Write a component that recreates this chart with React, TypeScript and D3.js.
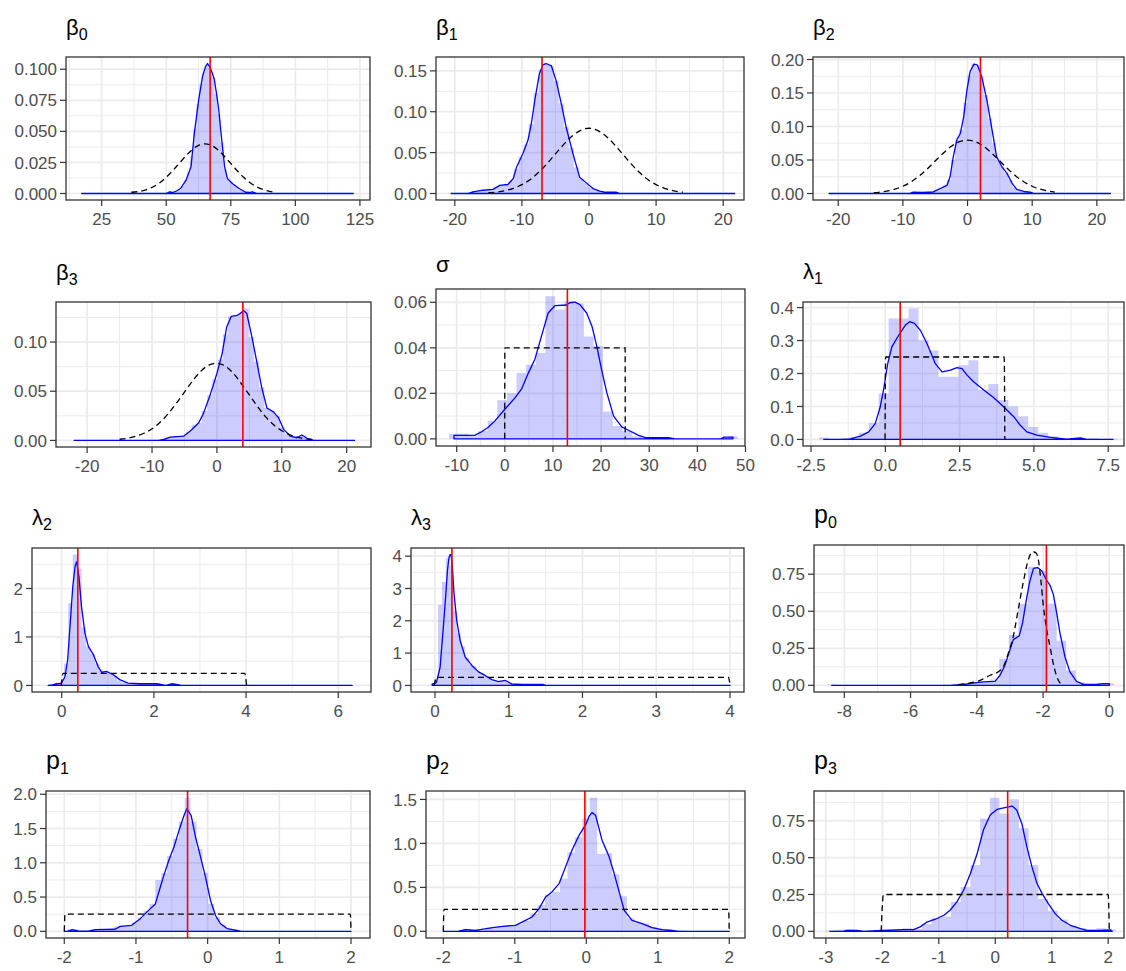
import React from 'react';
import * as d3 from 'd3';

type Pt = [number, number];
type Lim = [number, number];

// ---------------- β0 ----------------
const b0Density: Pt[] = [[17.3,0],[50,0],[51.3,0.0014],[52.5,0.0008],[54,0.002],[55.5,0.004],[57.7,0.0108],[59.6,0.0216],[60.9,0.0486],[62.6,0.0757],[64.1,0.0946],[65.2,0.102],[66,0.1046],[66.9,0.1015],[67.8,0.097],[68.6,0.092],[69.5,0.08],[70.3,0.068],[71.5,0.043],[72.6,0.0216],[73.7,0.012],[75.6,0.008],[78.2,0.004],[80.8,0.001],[82.5,0.0008],[83.3,0.0014],[85,0],[122.4,0]];
const b0Prior: Pt[] = [[36.5,0.001],[40,0.0018],[42.5,0.0032],[45,0.0054],[47.5,0.0086],[50,0.013],[52.5,0.0183],[55,0.0242],[57.5,0.03],[60,0.0352],[62.5,0.0387],[65,0.0399],[67.5,0.0387],[70,0.0352],[72.5,0.03],[75,0.0242],[77.5,0.0183],[80,0.013],[82.5,0.0086],[85,0.0054],[87.5,0.0032],[90,0.0018],[91.7,0.0011]];
const b0Hist = [0.001,0.001,0.001,0.002,0.003,0.006,0.011,0.017,0.03,0.052,0.072,0.088,0.098,0.104,0.101,0.094,0.08,0.064,0.041,0.02,0.012,0.009,0.007,0.005,0.003,0.002,0.001,0.001,0.0015,0.001];
const b0HistRange: Lim = [50.5, 84.5];
const b0XLim: Lim = [11.2, 128.9];
const b0XTicks = [25, 50, 75, 100, 125];
const b0YTicks = [0, 0.025, 0.05, 0.075, 0.1];
const b0True = 67;

// ---------------- β1 ----------------
const b1Density: Pt[] = [[-20.55,0],[-18,0],[-17.3,0.002],[-15.8,0.004],[-14.3,0.005],[-13.3,0.01],[-12.1,0.011],[-11.3,0.018],[-10.8,0.032],[-9.85,0.049],[-9.1,0.065],[-8.6,0.085],[-8.0,0.118],[-7.4,0.146],[-6.9,0.157],[-6.4,0.159],[-5.6,0.156],[-4.9,0.138],[-4.1,0.109],[-3.4,0.081],[-2.4,0.049],[-1.4,0.02],[-0.4,0.013],[0.6,0.006],[1.6,0.003],[2.5,0.0015],[4.1,0.0015],[4.6,0],[21.7,0]];
const b1Prior: Pt[] = [[-15,0.0009],[-13.75,0.0018],[-12.5,0.0035],[-11.25,0.0064],[-10,0.0108],[-8.75,0.0172],[-7.5,0.0259],[-6.25,0.0365],[-5,0.0484],[-3.75,0.0602],[-2.5,0.0704],[-1.25,0.0773],[0,0.0798],[1.25,0.0773],[2.5,0.0704],[3.75,0.0602],[5,0.0484],[6.25,0.0365],[7.5,0.0259],[8.75,0.0172],[10,0.0108],[11.25,0.0064],[12.5,0.0035],[14,0.0016]];
const b1Hist = [0.002,0.003,0.004,0.004,0.005,0.008,0.01,0.011,0.015,0.03,0.045,0.06,0.085,0.123,0.152,0.159,0.156,0.138,0.11,0.081,0.056,0.032,0.018,0.013,0.007,0.004,0.003,0.0015,0.0015,0.0015];
const b1HistRange: Lim = [-17.6, 4.1];
const b1XLim: Lim = [-22.8, 23.1];
const b1XTicks = [-20, -10, 0, 10, 20];
const b1YTicks = [0, 0.05, 0.1, 0.15];
const b1True = -7;

// ---------------- β2 ----------------
const b2Density: Pt[] = [[-21.4,0],[-9,0],[-8.4,0.002],[-7,0.0015],[-5.3,0.0025],[-4.2,0.0075],[-3.2,0.012],[-2.7,0.025],[-2.2,0.055],[-1.65,0.08],[-1.1,0.09],[-0.6,0.114],[-0.1,0.154],[0.4,0.182],[1.0,0.193],[1.55,0.1915],[2.2,0.174],[3.0,0.139],[3.8,0.0945],[4.5,0.055],[5.3,0.04],[6.1,0.03],[6.9,0.015],[7.6,0.006],[8.7,0.003],[9.7,0.002],[10.3,0],[22.1,0]];
const b2Prior: Pt[] = [[-14.5,0.0012],[-13.75,0.0018],[-12.5,0.0035],[-11.25,0.0064],[-10,0.0108],[-8.75,0.0172],[-7.5,0.0259],[-6.25,0.0365],[-5,0.0484],[-3.75,0.0602],[-2.5,0.0704],[-1.25,0.0773],[0,0.0798],[1.25,0.0773],[2.5,0.0704],[3.75,0.0602],[5,0.0484],[6.25,0.0365],[7.5,0.0259],[8.75,0.0172],[10,0.0108],[11.25,0.0064],[12.5,0.0035],[13.5,0.0021]];
const b2Hist = [0.002,0.002,0.002,0.001,0.002,0.003,0.006,0.009,0.012,0.02,0.05,0.08,0.095,0.135,0.176,0.194,0.19,0.175,0.147,0.112,0.075,0.05,0.04,0.031,0.02,0.009,0.004,0.003,0.002,0.002];
const b2HistRange: Lim = [-8.6, 9.8];
const b2XLim: Lim = [-23.9, 24.2];
const b2XTicks = [-20, -10, 0, 10, 20];
const b2YTicks = [0, 0.05, 0.1, 0.15, 0.2];
const b2True = 2;

// ---------------- β3 ----------------
const b3Density: Pt[] = [[-22,0],[-9,0],[-8.2,0.001],[-7.2,0.0034],[-5.1,0.0044],[-4.1,0.0096],[-2.8,0.018],[-2.1,0.027],[-1.0,0.047],[0,0.068],[0.8,0.088],[1.5,0.115],[2.2,0.126],[3.1,0.127],[3.6,0.129],[4.1,0.132],[4.6,0.129],[5.4,0.105],[6.2,0.078],[6.9,0.054],[7.7,0.033],[8.7,0.029],[9.5,0.023],[10.3,0.011],[11.3,0.0044],[12.3,0.0027],[13.1,0.0055],[13.9,0.002],[14.9,0],[21.2,0]];
const b3Prior: Pt[] = [[-15,0.0012],[-13.75,0.0022],[-12.5,0.0042],[-11.25,0.0073],[-10,0.0118],[-8.75,0.0184],[-7.5,0.0272],[-6.25,0.0377],[-5,0.0492],[-3.75,0.0605],[-2.5,0.0702],[-1.25,0.0765],[0,0.0785],[1.25,0.0757],[2.5,0.0684],[3.75,0.0578],[5,0.0462],[6.25,0.0345],[7.5,0.024],[8.75,0.0158],[10,0.0098],[11.25,0.0057],[12.5,0.0031],[13.75,0.0016],[14.7,0.001]];
const b3Hist = [0.001,0.003,0.004,0.004,0.005,0.009,0.016,0.018,0.03,0.046,0.062,0.082,0.108,0.126,0.127,0.13,0.134,0.105,0.08,0.054,0.033,0.03,0.025,0.013,0.006,0.004,0.003,0.005,0.002,0.001];
const b3HistRange: Lim = [-8.3, 14.9];
const b3XLim: Lim = [-24.8, 23.75];
const b3XTicks = [-20, -10, 0, 10, 20];
const b3YTicks = [0, 0.05, 0.1];
const b3True = 4;

// ---------------- σ ----------------
const sDensity: Pt[] = [[-10.56,0],[-10.56,0.0015],[-6.25,0.0015],[-4.9,0.003],[-3.5,0.005],[-2.1,0.0078],[0,0.013],[2.1,0.018],[3.5,0.022],[4.9,0.029],[6.25,0.035],[7.6,0.045],[9.0,0.0553],[10.4,0.0585],[12.0,0.0587],[12.8,0.0588],[13.5,0.0598],[14.6,0.0601],[15.6,0.059],[17.0,0.0553],[18.1,0.0495],[19.1,0.0407],[20.1,0.0304],[21.2,0.0202],[22.6,0.01],[24.3,0.0053],[25.7,0.0038],[27.8,0.0015],[29.2,0.0005],[34,0.0005],[35.4,0],[45,0],[45.5,0.0008],[47.4,0.0008],[47.4,0]];
const sPrior: Pt[] = [[-0.02,0],[0,0.04],[25,0.04],[25.02,0]];
const sHist = [0.0022,0.0022,0.0012,0.0035,0.008,0.017,0.02,0.029,0.0326,0.0377,0.0627,0.0568,0.0604,0.0595,0.045,0.0407,0.012,0.0056,0.0035,0.0012,0.0005,0.0005,0.0003,0,0,0,0,0,0.0005,0.0012];
const sHistRange: Lim = [-10.56, 47.4];
const sXLim: Lim = [-14.3, 49.9];
const sXTicks = [-10, 0, 10, 20, 30, 40, 50];
const sYTicks = [0, 0.02, 0.04, 0.06];
const sTrue = 13;

// ---------------- λ1 ----------------
const l1Density: Pt[] = [[-2.07,0],[-1.5,0],[-1.18,0.002],[-0.84,0.01],[-0.56,0.023],[-0.34,0.048],[-0.17,0.099],[-0.06,0.15],[0.08,0.23],[0.22,0.281],[0.45,0.316],[0.67,0.346],[0.82,0.357],[0.98,0.352],[1.18,0.331],[1.4,0.291],[1.68,0.23],[1.91,0.205],[2.19,0.21],[2.41,0.218],[2.58,0.215],[2.75,0.195],[2.97,0.175],[3.31,0.15],[3.64,0.127],[3.98,0.099],[4.32,0.069],[4.54,0.043],[4.76,0.023],[5.1,0.013],[5.55,0.006],[6.1,0.001],[6.56,0.005],[6.78,0],[7.66,0]];
const l1Prior: Pt[] = [[-0.01,0],[0.01,0.25],[4.0,0.25],[4.02,0]];
const l1Hist = [0.006,0.001,0.002,0.006,0.02,0.05,0.139,0.367,0.367,0.397,0.3,0.27,0.19,0.19,0.225,0.24,0.15,0.168,0.12,0.1,0.07,0.038,0.02,0.01,0.004,0.002,0.001,0.004,0,0.002];
const l1HistRange: Lim = [-2.07, 7.66];
const l1XLim: Lim = [-2.77, 8.03];
const l1XTicks = [-2.5, 0, 2.5, 5, 7.5];
const l1YTicks = [0, 0.1, 0.2, 0.3, 0.4];
const l1True = 0.5;

// ---------------- λ2 ----------------
const l2Density: Pt[] = [[-0.29,0],[-0.2,0.01],[-0.14,0.03],[-0.05,0.04],[0,0.05],[0.07,0.18],[0.13,0.53],[0.18,1.21],[0.24,2.03],[0.29,2.45],[0.325,2.55],[0.375,2.24],[0.43,1.62],[0.505,1.075],[0.58,0.8],[0.69,0.63],[0.79,0.39],[0.87,0.27],[0.97,0.29],[1.12,0.22],[1.26,0.12],[1.44,0.05],[1.7,0.035],[2.06,0.035],[2.2,0.01],[2.27,0],[2.38,0.035],[2.49,0.02],[2.6,0],[6.3,0]];
const l2Prior: Pt[] = [[-0.01,0],[0.03,0.25],[3.97,0.25],[4.01,0]];
const l2Hist = [0.01,0.02,0.04,0.06,0.45,1.7,2.7,2.41,1.2,0.8,0.65,0.45,0.3,0.3,0.25,0.2,0.1,0.06,0.04,0.04,0.03,0.04,0.03,0.03,0.03,0.01,0,0.02,0.04,0.01];
const l2HistRange: Lim = [-0.29, 2.5];
const l2XLim: Lim = [-0.644, 6.71];
const l2XTicks = [0, 2, 4, 6];
const l2YTicks = [0, 1, 2];
const l2True = 0.35;

// ---------------- λ3 ----------------
const l3Density: Pt[] = [[-0.036,0],[-0.036,0.05],[0,0.06],[0.02,0.1],[0.07,0.57],[0.11,1.71],[0.145,2.75],[0.17,3.58],[0.19,3.95],[0.205,4.05],[0.217,4.05],[0.235,3.69],[0.258,2.86],[0.294,2.03],[0.34,1.4],[0.41,0.88],[0.5,0.62],[0.59,0.42],[0.68,0.31],[0.77,0.18],[0.86,0.12],[0.95,0.16],[1.04,0.05],[1.18,0.03],[1.31,0.03],[1.47,0.03],[1.5,0],[4.0,0]];
const l3Prior: Pt[] = [[-0.01,0],[0.02,0.25],[3.98,0.25],[4.0,0]];
const l3Hist = [0.05,0.15,2.5,3.2,3.95,3.7,2.3,1.6,1.2,0.85,0.65,0.6,0.45,0.38,0.3,0.2,0.12,0.1,0.14,0.15,0.08,0.05,0.03,0.03,0.03,0.02,0.03,0.03,0.02,0.03];
const l3HistRange: Lim = [-0.036, 1.47];
const l3XLim: Lim = [-0.325, 4.19];
const l3XTicks = [0, 1, 2, 3, 4];
const l3YTicks = [0, 1, 2, 3, 4];
const l3True = 0.23;

// ---------------- p0 ----------------
const p0Density: Pt[] = [[-8.38,0],[-4.8,0],[-4.4,0.007],[-4.0,0.018],[-3.8,0.023],[-3.45,0.027],[-3.3,0.068],[-3.15,0.136],[-3.0,0.239],[-2.9,0.307],[-2.72,0.334],[-2.62,0.42],[-2.52,0.557],[-2.41,0.693],[-2.29,0.789],[-2.17,0.795],[-2.04,0.773],[-1.91,0.716],[-1.79,0.675],[-1.69,0.614],[-1.59,0.489],[-1.49,0.352],[-1.34,0.193],[-1.19,0.091],[-0.99,0.027],[-0.78,0.007],[-0.4,0.007],[-0.18,0.011],[0,0.011],[0,0]];
const p0Prior: Pt[] = [[-4.56,0.005],[-4.2,0.016],[-3.9,0.034],[-3.6,0.068],[-3.35,0.091],[-3.2,0.125],[-3.05,0.216],[-2.9,0.33],[-2.75,0.511],[-2.6,0.693],[-2.44,0.852],[-2.31,0.902],[-2.21,0.893],[-2.13,0.83],[-2.07,0.716],[-1.99,0.534],[-1.89,0.375],[-1.79,0.261],[-1.67,0.125],[-1.54,0.034],[-1.44,0.007]];
const p0Hist = [0.005,0,0,0,0,0,0,0,0,0,0,0,0.003,0.007,0.01,0.02,0.024,0.04,0.18,0.34,0.55,0.8,0.77,0.55,0.3,0.1,0.02,0.005,0.01,0.012];
const p0HistRange: Lim = [-8.38, 0];
const p0XLim: Lim = [-8.915, 0.443];
const p0XTicks = [-8, -6, -4, -2, 0];
const p0YTicks = [0, 0.25, 0.5, 0.75];
const p0True = -1.9;

// ---------------- p1 ----------------
const p1Density: Pt[] = [[-2,0],[-1.95,0],[-1.89,0.024],[-1.8,0.002],[-1.65,0.005],[-1.57,0.024],[-1.29,0.03],[-1.22,0.073],[-1.06,0.088],[-0.94,0.185],[-0.85,0.28],[-0.73,0.4],[-0.66,0.647],[-0.61,0.82],[-0.54,1.04],[-0.47,1.23],[-0.4,1.47],[-0.33,1.69],[-0.29,1.79],[-0.23,1.69],[-0.17,1.38],[-0.1,1.09],[-0.03,0.79],[0.04,0.45],[0.11,0.23],[0.18,0.11],[0.27,0.04],[0.41,0.015],[0.46,0],[2.0,0]];
const p1Prior: Pt[] = [[-2.0,0],[-1.99,0.25],[1.99,0.25],[2.0,0]];
const p1Hist = [0.03,0.03,0,0.01,0.02,0.03,0.02,0.03,0.07,0.08,0.09,0.13,0.2,0.3,0.4,0.75,0.85,1.1,1.35,1.6,1.95,1.6,1.2,0.85,0.4,0.2,0.1,0.04,0.02,0.01];
const p1HistRange: Lim = [-1.92, 0.46];
const p1XLim: Lim = [-2.255, 2.265];
const p1XTicks = [-2, -1, 0, 1, 2];
const p1YTicks = [0, 0.5, 1, 1.5, 2];
const p1True = -0.28;

// ---------------- p2 ----------------
const p2Density: Pt[] = [[-2,0],[-1.8,0],[-1.69,0.02],[-1.55,0.011],[-1.31,0.042],[-1.17,0.057],[-0.99,0.068],[-0.85,0.125],[-0.76,0.163],[-0.66,0.258],[-0.57,0.391],[-0.48,0.448],[-0.38,0.543],[-0.29,0.733],[-0.2,0.923],[-0.1,1.094],[-0.01,1.21],[0.04,1.31],[0.08,1.35],[0.13,1.32],[0.22,1.037],[0.32,0.847],[0.39,0.657],[0.46,0.448],[0.53,0.239],[0.64,0.125],[0.78,0.087],[0.92,0.042],[1.06,0.019],[1.2,0.011],[1.29,0],[2,0]];
const p2Prior: Pt[] = [[-2.0,0],[-1.99,0.25],[1.99,0.25],[2.0,0]];
const p2Hist = [0.03,0.02,0.01,0.04,0.05,0.06,0.07,0.08,0.12,0.2,0.3,0.42,0.45,0.6,0.9,1.07,1.28,1.52,0.88,0.89,0.65,0.4,0.15,0.1,0.09,0.05,0.03,0.02,0.01,0.01];
const p2HistRange: Lim = [-1.67, 1.35];
const p2XLim: Lim = [-2.242, 2.22];
const p2XTicks = [-2, -1, 0, 1, 2];
const p2YTicks = [0, 0.5, 1, 1.5];
const p2True = -0.02;

// ---------------- p3 ----------------
const p3Density: Pt[] = [[-2.93,0],[-2.7,0],[-2.63,0.007],[-2.45,0.007],[-2.33,0],[-2.0,0.007],[-1.62,0.011],[-1.45,0.011],[-1.33,0.03],[-1.21,0.063],[-1.06,0.082],[-0.91,0.109],[-0.8,0.143],[-0.68,0.2],[-0.56,0.279],[-0.44,0.392],[-0.32,0.528],[-0.21,0.687],[-0.09,0.789],[0.03,0.827],[0.15,0.838],[0.3,0.85],[0.38,0.823],[0.47,0.732],[0.56,0.573],[0.65,0.437],[0.74,0.324],[0.83,0.256],[0.94,0.188],[1.06,0.12],[1.18,0.075],[1.33,0.041],[1.51,0.018],[1.62,0.007],[1.86,0.007],[2.04,0.01],[2.07,0]];
const p3Prior: Pt[] = [[-2.02,0],[-1.98,0.25],[2.0,0.25],[2.02,0]];
const p3Hist = [0.005,0.01,0.012,0.005,0.005,0.01,0.008,0.01,0.02,0.015,0.05,0.09,0.1,0.2,0.3,0.45,0.766,0.907,0.8,0.897,0.7,0.45,0.22,0.14,0.08,0.04,0.02,0.01,0.02,0.012];
const p3HistRange: Lim = [-2.93, 2.05];
const p3XLim: Lim = [-3.21, 2.28];
const p3XTicks = [-3, -2, -1, 0, 1, 2];
const p3YTicks = [0, 0.25, 0.5, 0.75];
const p3True = 0.22;

// ---------------- titles ----------------
const titleMain = ['β', 'β', 'β', 'β', 'σ', 'λ', 'λ', 'λ', 'p', 'p', 'p', 'p'];
const titleSub = ['0', '1', '2', '3', '', '1', '2', '3', '0', '1', '2', '3'];

interface PanelDef {
  density: Pt[]; prior: Pt[]; hist: number[]; histRange: Lim; xLim: Lim;
  xTicks: number[]; yTicks: number[]; xFmt: string; yFmt: string; truth: number;
}

const panels: PanelDef[] = [
  { density: b0Density, prior: b0Prior, hist: b0Hist, histRange: b0HistRange, xLim: b0XLim, xTicks: b0XTicks, yTicks: b0YTicks, xFmt: 'd', yFmt: '.3f', truth: b0True },
  { density: b1Density, prior: b1Prior, hist: b1Hist, histRange: b1HistRange, xLim: b1XLim, xTicks: b1XTicks, yTicks: b1YTicks, xFmt: 'd', yFmt: '.2f', truth: b1True },
  { density: b2Density, prior: b2Prior, hist: b2Hist, histRange: b2HistRange, xLim: b2XLim, xTicks: b2XTicks, yTicks: b2YTicks, xFmt: 'd', yFmt: '.2f', truth: b2True },
  { density: b3Density, prior: b3Prior, hist: b3Hist, histRange: b3HistRange, xLim: b3XLim, xTicks: b3XTicks, yTicks: b3YTicks, xFmt: 'd', yFmt: '.2f', truth: b3True },
  { density: sDensity, prior: sPrior, hist: sHist, histRange: sHistRange, xLim: sXLim, xTicks: sXTicks, yTicks: sYTicks, xFmt: 'd', yFmt: '.2f', truth: sTrue },
  { density: l1Density, prior: l1Prior, hist: l1Hist, histRange: l1HistRange, xLim: l1XLim, xTicks: l1XTicks, yTicks: l1YTicks, xFmt: '.1f', yFmt: '.1f', truth: l1True },
  { density: l2Density, prior: l2Prior, hist: l2Hist, histRange: l2HistRange, xLim: l2XLim, xTicks: l2XTicks, yTicks: l2YTicks, xFmt: 'd', yFmt: 'd', truth: l2True },
  { density: l3Density, prior: l3Prior, hist: l3Hist, histRange: l3HistRange, xLim: l3XLim, xTicks: l3XTicks, yTicks: l3YTicks, xFmt: 'd', yFmt: 'd', truth: l3True },
  { density: p0Density, prior: p0Prior, hist: p0Hist, histRange: p0HistRange, xLim: p0XLim, xTicks: p0XTicks, yTicks: p0YTicks, xFmt: 'd', yFmt: '.2f', truth: p0True },
  { density: p1Density, prior: p1Prior, hist: p1Hist, histRange: p1HistRange, xLim: p1XLim, xTicks: p1XTicks, yTicks: p1YTicks, xFmt: 'd', yFmt: '.1f', truth: p1True },
  { density: p2Density, prior: p2Prior, hist: p2Hist, histRange: p2HistRange, xLim: p2XLim, xTicks: p2XTicks, yTicks: p2YTicks, xFmt: 'd', yFmt: '.1f', truth: p2True },
  { density: p3Density, prior: p3Prior, hist: p3Hist, histRange: p3HistRange, xLim: p3XLim, xTicks: p3XTicks, yTicks: p3YTicks, xFmt: 'd', yFmt: '.2f', truth: p3True },
];

// ---------------- layout (pixel boxes of each panel) ----------------
interface Box { l: number; r: number; t: number; b: number; tOff: number }
const boxes: Box[] = [
  { l: 66, r: 370, t: 57, b: 200, tOff: 22 },
  { l: 436, r: 744, t: 57, b: 200, tOff: 22 },
  { l: 813, r: 1124, t: 57, b: 200, tOff: 22 },
  { l: 56, r: 371, t: 302, b: 447, tOff: 22 },
  { l: 436, r: 745, t: 289, b: 446, tOff: 17 },
  { l: 803, r: 1124, t: 302, b: 446, tOff: 23 },
  { l: 32, r: 371, t: 548, b: 692, tOff: 23 },
  { l: 411, r: 744, t: 548, b: 692, tOff: 23 },
  { l: 814, r: 1124, t: 545, b: 692, tOff: 22 },
  { l: 46, r: 370, t: 791, b: 938, tOff: 22 },
  { l: 426, r: 745, t: 791, b: 938, tOff: 22 },
  { l: 814, r: 1124, t: 791, b: 938, tOff: 22 },
];

const FONT = "'Liberation Sans', Arial, Helvetica, sans-serif";
const GRID = '#EBEBEB';
const AXIS_TXT = '#4D4D4D';
const DARK = '#333333';
const AXIS_FS = 17;

function minorBreaks(ticks: number[], lim: Lim): number[] {
  const s = ticks[1] - ticks[0];
  const out: number[] = [];
  for (let k = -1; k < ticks.length; k++) {
    const v = ticks[0] + (k + 0.5) * s;
    if (v >= lim[0] && v <= lim[1]) out.push(v);
  }
  return out;
}

function makeFmt(spec: string) {
  const f = d3.format(spec);
  return (v: number) => f(v).replace('\u2212', '-');
}

function Panel({ def, box, idx }: { def: PanelDef; box: Box; idx: number }) {
  const { l, r, t, b } = box;
  const x = d3.scaleLinear().domain(def.xLim).range([l, r]);
  const yMax = Math.max(
    d3.max(def.hist) as number,
    d3.max(def.density, (d) => d[1]) as number,
    d3.max(def.prior, (d) => d[1]) as number
  );
  const yDom: Lim = [-0.05 * yMax, 1.05 * yMax];
  const y = d3.scaleLinear().domain(yDom).range([b, t]);

  const n = def.hist.length;
  const w = (def.histRange[1] - def.histRange[0]) / (n - 1);
  const steps: Pt[] = def.hist.map((h, i) => [def.histRange[0] + (i - 0.5) * w, h] as Pt);
  steps.push([def.histRange[0] + (n - 0.5) * w, def.hist[n - 1]]);
  const histArea = d3.area<Pt>().x((d) => x(d[0])).y0(y(0)).y1((d) => y(d[1])).curve(d3.curveStepAfter);
  const densLine = d3.line<Pt>().x((d) => x(d[0])).y((d) => y(d[1]));
  const priorLine = d3.line<Pt>().x((d) => x(d[0])).y((d) => y(d[1])).curve(d3.curveMonotoneX);

  const xMinor = minorBreaks(def.xTicks, def.xLim);
  const yMinor = minorBreaks(def.yTicks, yDom);
  const fx = makeFmt(def.xFmt);
  const fy = makeFmt(def.yFmt);
  const clipId = `clip-${idx}`;
  const isP = titleMain[idx] === 'p';

  return (
    <g>
      <defs>
        <clipPath id={clipId}>
          <rect x={l} y={t} width={r - l} height={b - t} />
        </clipPath>
      </defs>
      <rect x={l} y={t} width={r - l} height={b - t} fill="#fff" />
      <g clipPath={`url(#${clipId})`}>
        {xMinor.map((v, i) => (
          <line key={`xm${i}`} x1={x(v)} x2={x(v)} y1={t} y2={b} stroke={GRID} strokeWidth={1} />
        ))}
        {yMinor.map((v, i) => (
          <line key={`ym${i}`} x1={l} x2={r} y1={y(v)} y2={y(v)} stroke={GRID} strokeWidth={1} />
        ))}
        {def.xTicks.map((v, i) => (
          <line key={`xM${i}`} x1={x(v)} x2={x(v)} y1={t} y2={b} stroke={GRID} strokeWidth={1.7} />
        ))}
        {def.yTicks.map((v, i) => (
          <line key={`yM${i}`} x1={l} x2={r} y1={y(v)} y2={y(v)} stroke={GRID} strokeWidth={1.7} />
        ))}
        <path d={histArea(steps) || ''} fill="#0000FF" fillOpacity={0.2} stroke="none" />
        <path d={(densLine(def.density) || '') + 'Z'} fill="none" stroke="#0000FF" strokeWidth={1.3} strokeLinejoin="round" />
        <path d={priorLine(def.prior) || ''} fill="none" stroke="#000" strokeWidth={1.3} strokeDasharray="6,4" />
        <line x1={x(def.truth)} x2={x(def.truth)} y1={t} y2={b} stroke="#FF0000" strokeWidth={1.6} />
      </g>
      <rect x={l} y={t} width={r - l} height={b - t} fill="none" stroke={DARK} strokeWidth={1.3} />
      {def.xTicks.map((v, i) => (
        <g key={`xt${i}`}>
          <line x1={x(v)} x2={x(v)} y1={b} y2={b + 6} stroke={DARK} strokeWidth={1.2} />
          <text x={x(v)} y={b + 25} textAnchor="middle" fontSize={AXIS_FS} fill={AXIS_TXT} fontFamily={FONT}>
            {fx(v)}
          </text>
        </g>
      ))}
      {def.yTicks.map((v, i) => (
        <g key={`yt${i}`}>
          <line x1={l - 6} x2={l} y1={y(v)} y2={y(v)} stroke={DARK} strokeWidth={1.2} />
          <text x={l - 9} y={y(v)} dy="0.36em" textAnchor="end" fontSize={AXIS_FS} fill={AXIS_TXT} fontFamily={FONT}>
            {fy(v)}
          </text>
        </g>
      ))}
      <text x={l} y={t - box.tOff} fontFamily={FONT} fill="#000">
        <tspan fontSize={isP ? 25 : 22}>{titleMain[idx]}</tspan>
        {titleSub[idx] ? (
          <tspan fontSize={16} dy={5}>
            {titleSub[idx]}
          </tspan>
        ) : null}
      </text>
    </g>
  );
}

export default function App() {
  return (
    <svg
      width={1126}
      height={971}
      viewBox="0 0 1126 971"
      style={{ position: 'absolute', left: 0, top: 0, background: '#fff' }}
    >
      <rect x={0} y={0} width={1126} height={971} fill="#fff" />
      {panels.map((p, i) => (
        <Panel key={i} def={p} box={boxes[i]} idx={i} />
      ))}
    </svg>
  );
}
